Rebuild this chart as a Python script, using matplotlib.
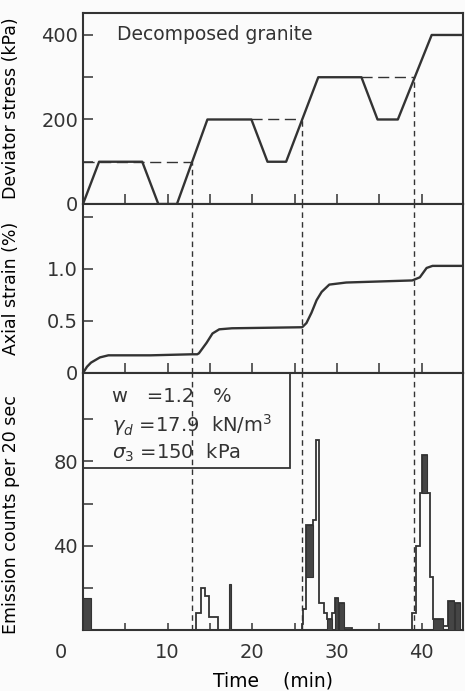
import matplotlib
matplotlib.use("Agg")
import matplotlib.pyplot as plt
from matplotlib.transforms import ScaledTranslation
from matplotlib.patches import Rectangle

# ---------------- data ----------------
# Deviator stress loading path (time min, stress kPa)
stress_t = [0, 1.9, 7.0, 8.9, 11.1, 14.7, 19.9, 21.8, 24.0, 27.8, 32.9, 34.8, 37.2, 41.2, 45.0]
stress_q = [0, 100, 100, 0, 0, 200, 200, 100, 100, 300, 300, 200, 200, 400, 400]

# previous-maximum reference levels (dashed)
ref_q = [100, 200, 300]
ref_t0 = [0.0, 19.9, 32.9]
ref_t1 = [12.9, 25.9, 39.1]

# times where previous maximum stress is exceeded (vertical dashed lines)
mark_t = [12.9, 25.9, 39.1]
mark_q = [100, 200, 300]

# Axial strain (%)
strain_t = [0, 0.47, 0.95, 2.0, 3.0, 8.0, 12.9, 13.5, 13.7, 14.6, 15.3, 16.1, 17.6,
            25.9, 26.4, 27.0, 27.6, 28.2, 29.1, 31.1, 38.9, 39.8, 40.6, 41.3, 45.0]
strain_e = [0, 0.06, 0.10, 0.15, 0.17, 0.17, 0.18, 0.18, 0.19, 0.29, 0.38, 0.42, 0.43,
            0.44, 0.48, 0.58, 0.70, 0.78, 0.85, 0.87, 0.89, 0.92, 1.01, 1.03, 1.03]

# AE emission counts per 20 sec (step outlines)
ae_edges_1 = [13.4, 13.9, 14.4, 14.9, 15.9]
ae_counts_1 = [8, 20, 16, 6]
ae_edges_2 = [25.9, 26.0, 26.4, 27.2, 27.5, 27.9, 28.5, 28.8, 29.4, 29.8, 30.1, 30.3, 30.8, 31.8]
ae_counts_2 = [3, 10, 50, 52, 90, 13, 8, 5, 8, 15, 7, 13, 1]
ae_edges_3 = [38.9, 39.3, 39.8, 40.1, 40.7, 41.0, 41.3, 42.5, 43.1, 43.8, 44.0, 44.6]
ae_counts_3 = [8, 40, 65, 83, 65, 25, 5, 2, 14, 8, 13]

# dense (fluctuating) emission blocks drawn dark
dark_t0 = [0.0, 17.2, 26.4, 28.8, 29.8, 30.3, 40.1, 41.3, 43.1, 44.0]
dark_t1 = [0.95, 17.5, 27.2, 29.4, 30.1, 30.8, 40.7, 42.5, 43.8, 44.6]
dark_lo = [0, 0, 25, 0, 0, 0, 65, 0, 0, 0]
dark_hi = [15, 22, 50, 5, 15, 13, 83, 5, 14, 13]

x_major = [0, 10, 20, 30, 40]
x_minor = [5, 15, 25, 35]
x_labels = ["0", "10", "20", "30", "40"]

# ---------------- style ----------------
plt.rcParams['font.family'] = ['DejaVu Sans']
INK = "#333333"
DARK = "#454545"
BG = "#fbfbfb"
plt.rcParams['text.color'] = INK
plt.rcParams['axes.edgecolor'] = INK
plt.rcParams['xtick.color'] = INK
plt.rcParams['ytick.color'] = INK
plt.rcParams['xtick.labelcolor'] = INK
plt.rcParams['ytick.labelcolor'] = INK
plt.rcParams['mathtext.fontset'] = 'dejavusans'

W, H = 465, 691
fig = plt.figure(figsize=(W / 100, H / 100), dpi=100, facecolor=BG)

L, R = 83 / W, 463 / W
def ypos(top_px, bot_px):
    return [L, 1 - bot_px / H, R - L, (bot_px - top_px) / H]

ax1 = fig.add_axes(ypos(13, 204))
ax2 = fig.add_axes(ypos(204, 373), sharex=ax1)
ax3 = fig.add_axes(ypos(373, 630), sharex=ax1)

XMAX = 44.9
ax3.set_xlim(0, XMAX)
ax3.set_xticks(x_major, x_labels)
ax3.set_xticks(x_minor, minor=True)

for ax in (ax1, ax2, ax3):
    ax.set_facecolor(BG)
    for s in ax.spines.values():
        s.set_linewidth(1.5)
    ax.tick_params(axis='both', which='both', direction='in', length=7, width=1.1, labelsize=14)
    ax.tick_params(axis='x', which='both', labelbottom=False)

dash_v = (0, (4, 3))

# ---- top: deviator stress ----
ax1.plot(stress_t, stress_q, color=INK, lw=1.7, zorder=3)
for q, t0, t1 in zip(ref_q, ref_t0, ref_t1):
    ax1.plot([t0, t1], [q, q], color=INK, lw=1.0, ls=(0, (8, 4)), zorder=2)
ax1.vlines(mark_t, 0, mark_q, colors=INK, lw=1.0, linestyles=dash_v)
ax1.set_ylim(0, 452)
ax1.set_yticks([0, 100, 200, 300, 400], ["0", "", "200", "", "400"])
ax1.text(4.0, 400, "Decomposed granite", fontsize=13.5, va='center', ha='left', color=INK)
ax1.set_ylabel("Deviator stress (kPa)", fontsize=12.5)
ax1.yaxis.set_label_coords(-0.165, 0.5)

# ---- middle: axial strain ----
ax2.plot(strain_t, strain_e, color=INK, lw=1.7, zorder=3)
for t in mark_t:
    ax2.axvline(t, color=INK, lw=1.0, ls=dash_v)
ax2.set_ylim(0, 1.625)
ax2.set_yticks([0, 0.5, 1.0, 1.5], ["0", "0.5", "1.0", ""])
ax2.set_ylabel("Axial strain (%)", fontsize=12.5)
ax2.yaxis.set_label_coords(-0.165, 0.5)

# ---- bottom: AE counts ----
for t in mark_t:
    ax3.axvline(t, color=INK, lw=1.0, ls=dash_v)
for e, c in ((ae_edges_1, ae_counts_1), (ae_edges_2, ae_counts_2), (ae_edges_3, ae_counts_3)):
    ax3.stairs(c, e, baseline=0, color=INK, lw=1.3, zorder=3)
ax3.bar(dark_t0, [h - l for h, l in zip(dark_hi, dark_lo)],
        width=[b - a for a, b in zip(dark_t0, dark_t1)], bottom=dark_lo,
        align='edge', color=DARK, edgecolor=INK, lw=0.8, zorder=4)
ax3.set_ylim(0, 122)
ax3.set_yticks([0, 20, 40, 60, 80, 100], ["", "", "40", "", "80", ""])
ax3.tick_params(axis='x', which='both', length=5, labelbottom=True, pad=9)
ax3.set_ylabel("Emission counts per 20 sec", fontsize=12.5)
ax3.yaxis.set_label_coords(-0.165, 0.45)
ax3.set_xlabel("Time    (min)", fontsize=13.5, labelpad=7)

# shift the "0" time label left as in the original
lab0 = ax3.get_xticklabels()[0]
lab0.set_transform(lab0.get_transform() + ScaledTranslation(-0.22, 0, fig.dpi_scale_trans))

# parameter box
ax3.add_patch(Rectangle((0, 77), 24.4, 45, fill=False, edgecolor=INK, lw=1.3, zorder=5,
                        clip_on=False))
ax3.text(3.4, 111, "w   =1.2   %", fontsize=14, va='center', ha='left', color=INK)
ax3.text(3.4, 97.5, r"$\gamma_d$ =17.9  kN/m$^3$", fontsize=14, va='center', ha='left', color=INK)
ax3.text(3.4, 84, r"$\sigma_3$ =150  kPa", fontsize=14, va='center', ha='left', color=INK)

fig.savefig("out.png", dpi=100, facecolor=BG)
